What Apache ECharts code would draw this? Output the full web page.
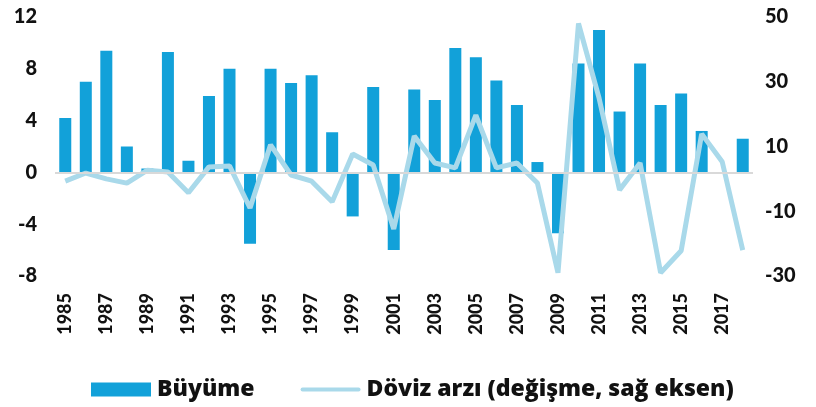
<!DOCTYPE html>
<html>
<head>
<meta charset="utf-8">
<script src="https://cdn.jsdelivr.net/npm/echarts@6/dist/echarts.min.js"></script>
<style>
  html, body { margin: 0; padding: 0; background: #fff; }
  #chart { width: 816px; height: 407px; }
</style>
</head>
<body>
<div id="chart"></div>
<script>
const years = [];
for (let y = 1985; y <= 2018; y++) years.push(String(y));

// Büyüme (%), sol eksen
const growth = [4.2, 7.0, 9.4, 2.0, 0.3, 9.3, 0.9, 5.9, 8.0, -5.5,
  8.0, 6.9, 7.5, 3.1, -3.4, 6.6, -6.0, 6.4, 5.6, 9.6,
  8.9, 7.1, 5.2, 0.8, -4.7, 8.4, 11.0, 4.7, 8.4, 5.2,
  6.1, 3.2, null, 2.6];

// Döviz arzı değişme (%), sağ eksen
const fxSupply = [-0.7, 1.8, 0, -1.3, 2.7, 2.1, -4.3, 3.7, 4.0, -9.0,
  10.5, 1.2, -0.7, -7.1, 7.7, 4.3, -15.5, 13.2, 4.9, 3.4,
  19.7, 3.4, 4.9, -1.3, -29, 48.0, 25.0, -3.4, 4.9, -29,
  -22.2, 13.9, 5.3, -22];

const leftTicks = { min: -8, max: 12, interval: 4 };
const rightTicks = { min: -30, max: 50, interval: 20 };

const barColor = '#12a1d9';
const lineColor = '#a9d9ea';

const chart = echarts.init(document.getElementById('chart'), null, { renderer: 'canvas' });

const labelFont = { fontFamily: 'Lato', fontWeight: 900, color: '#111' };

chart.setOption({
  animation: false,
  grid: { left: 55, right: 63, top: 17, bottom: 131 },
  legend: {
    top: 373,
    left: 86,
    itemWidth: 60,
    itemHeight: 14,
    itemGap: 46,
    textStyle: { fontFamily: 'Open Sans', fontWeight: 800, fontSize: 23, color: '#111', padding: [0, 0, 0, 1] },
    data: [
      { name: 'Büyüme', icon: 'rect', itemStyle: { color: barColor } },
      {
        name: 'Döviz arzı (değişme, sağ eksen)',
        icon: 'path://M2,0 L58,0 A2,2 0 0 1 58,4 L2,4 A2,2 0 0 1 2,0 Z',
        itemStyle: { color: lineColor, borderWidth: 0 }
      }
    ]
  },
  xAxis: {
    type: 'category',
    data: years,
    axisLine: { show: false },
    axisTick: { show: false },
    axisLabel: {
      ...labelFont,
      fontSize: 18,
      rotate: 90,
      interval: 1,
      margin: 17
    }
  },
  yAxis: [
    {
      type: 'value',
      ...leftTicks,
      splitLine: { show: false },
      axisLine: { show: false },
      axisTick: { show: false },
      axisLabel: { ...labelFont, fontSize: 20, margin: 18 }
    },
    {
      type: 'value',
      ...rightTicks,
      splitLine: { show: false },
      axisLine: { show: false },
      axisTick: { show: false },
      axisLabel: { ...labelFont, fontSize: 20, margin: 12 }
    }
  ],
  series: [
    {
      name: 'Büyüme',
      type: 'bar',
      data: growth,
      barWidth: 12,
      itemStyle: { color: barColor },
      markLine: {
        silent: true,
        symbol: 'none',
        label: { show: false },
        lineStyle: { color: '#d9d9d9', width: 2, type: 'solid' },
        data: [{ yAxis: 0 }]
      }
    },
    {
      name: 'Döviz arzı (değişme, sağ eksen)',
      type: 'line',
      yAxisIndex: 1,
      data: fxSupply,
      symbol: 'none',
      lineStyle: { color: lineColor, width: 5 },
      itemStyle: { color: lineColor }
    }
  ]
});
</script>
</body>
</html>
